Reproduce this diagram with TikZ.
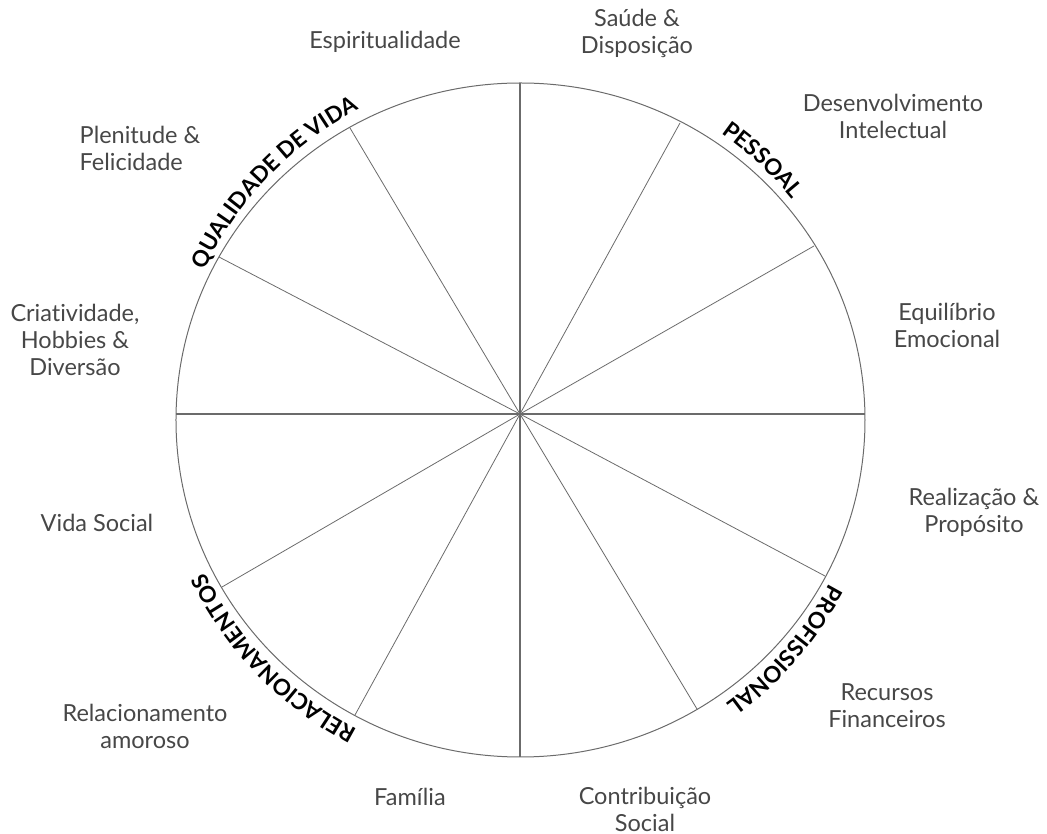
\documentclass[tikz,border=0pt]{standalone}
\usepackage{fontspec}
\setmainfont[Ligatures=NoCommon]{Lato}
\usepackage{tikz}
\usetikzlibrary{positioning,decorations.text,calc}
\definecolor{inkgray}{gray}{0.28}
\definecolor{linegray}{gray}{0.42}
\tikzset{
area/.style={
  font=\fontsize{23.5}{27}\selectfont,
  text=inkgray,
  align=center,
  inner sep=0pt
},
axisline/.style={draw=linegray, line width=2.2pt},
spoke/.style={draw=linegray, line width=0.8pt},
rim/.style={draw=linegray, line width=1pt},
arclabel/.style={
  decorate,
  decoration={text along path, text align=center, text={#1}}
}
}
\newcommand{\catfont}{\fontsize{22.5}{22.5}\bfseries\selectfont}

\begin{document}
\begin{tikzpicture}[x=1pt, y=1pt]
  \useasboundingbox (-520,-420) rectangle (527,414);

  \coordinate (O) at (0,0);
  \coordinate (E) at (0.5,-6);
  \coordinate (top) at (0,331);
  \coordinate (bottom) at (0,-343);
  \coordinate (left) at (-344,0);
  \coordinate (right) at (345,0);

  \draw[rim] (E) ellipse [x radius=344.5, y radius=337];
  \foreach \x/\y in {294/168,160/291,-170/286,-301/157,-298/-173,-165/-301,177/-295,305/-162}
    \draw[spoke] (O) -- (\x,\y);
  \draw[axisline] (top) -- (bottom);
  \draw[axisline] (left) -- (right);

  \path[arclabel={|\catfont|PESSOAL}]
    ($(E)+(72:350)$) arc[start angle=72, end angle=22, radius=350];
  \path[arclabel={|\catfont|QUALIDADE DE VIDA}]
    ($(E)+(166:350)$) arc[start angle=166, end angle=106, radius=350];
  \path[arclabel={|\catfont|PROFISSIONAL}]
    ($(E)+(-11:350)$) arc[start angle=-11, end angle=-71, radius=350];
  \path[arclabel={|\catfont|RELACIONAMENTOS}]
    ($(E)+(254:350)$) arc[start angle=254, end angle=194, radius=350];

  \node[area] (esp) at (-135,372) {Espiritualidade};
  \node[area] (saude) at (117,381) {Saúde \&\\Disposição};
  \node[area] (desenv) at (373,298) {Desenvolvimento\\Intelectual};
  \node[area] (equil) at (427,89) {Equilíbrio\\Emocional};
  \node[area] (realiz) at (454,-98) {Realização \&\\Propósito};
  \node[area] (recursos) at (367,-292) {Recursos\\Financeiros};
  \node[area] (contrib) at (125,-395) {Contribuição\\Social};
  \node[area] (familia) at (-110,-383) {Família};
  \node[area] (relac) at (-375,-312) {Relacionamento\\amoroso};
  \node[area] (vida) at (-423,-109) {Vida Social};
  \node[area] (criat) at (-445,74) {Criatividade,\\Hobbies \&\\Diversão};
  \node[area,align=left] (plen) at (-380,266) {Plenitude \&\\Felicidade};
\end{tikzpicture}
\end{document}
